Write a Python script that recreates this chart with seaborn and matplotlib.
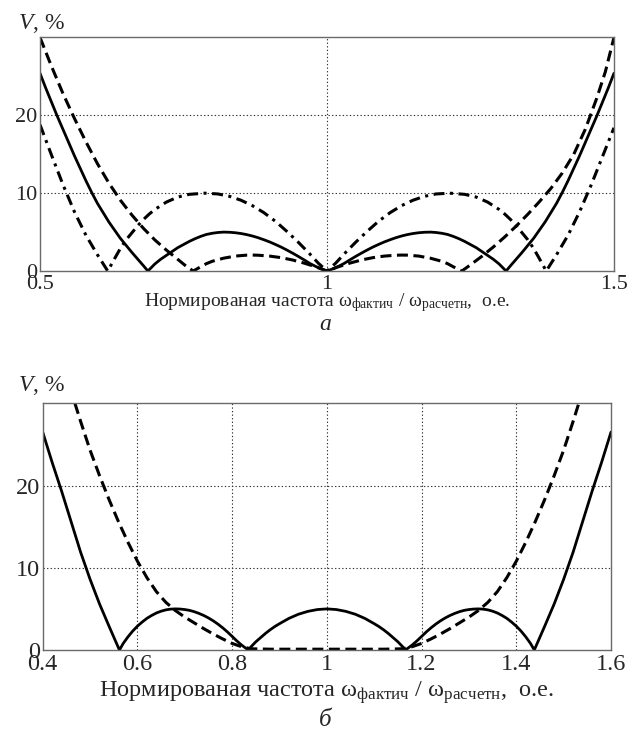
import matplotlib.pyplot as plt
import seaborn as sns

sns.set_theme(style="white")
plt.rcParams["font.family"] = ["Liberation Serif", "DejaVu Serif"]
plt.rcParams["mathtext.fontset"] = "custom"
plt.rcParams["mathtext.rm"] = "Liberation Serif"
plt.rcParams["mathtext.it"] = "Liberation Serif:italic"

# panel а: three curves, V (%) vs normalised frequency
a_solid_x = [0.50, 0.51, 0.52, 0.53, 0.54, 0.55, 0.56, 0.57, 0.58, 0.59, 0.60, 0.62, 0.64, 0.66, 0.68, 0.688,
             0.70, 0.71, 0.72, 0.73, 0.74, 0.75, 0.76, 0.77, 0.78, 0.79, 0.80, 0.81, 0.82, 0.83, 0.84, 0.85,
             0.86, 0.87, 0.88, 0.89, 0.90, 0.91, 0.92, 0.93, 0.94, 0.95, 0.96, 0.97, 0.98, 0.99, 1.00,
             1.01, 1.02, 1.03, 1.04, 1.05, 1.06, 1.07, 1.08, 1.09, 1.10, 1.11, 1.12, 1.13, 1.14, 1.15,
             1.16, 1.17, 1.18, 1.19, 1.20, 1.21, 1.22, 1.23, 1.24, 1.25, 1.26, 1.27, 1.28, 1.29, 1.30, 1.312,
             1.32, 1.34, 1.36, 1.38, 1.40, 1.41, 1.42, 1.43, 1.44, 1.45, 1.46, 1.47, 1.48, 1.49, 1.50]
a_solid_v = [25.4, 23.5, 21.7, 19.9, 18.2, 16.5, 14.8, 13.2, 11.6, 10.1, 8.7, 6.3, 4.2, 2.4, 0.7, 0.0,
             0.9, 1.5, 2.0, 2.5, 3.0, 3.4, 3.8, 4.15, 4.45, 4.7, 4.85, 4.95, 5.0, 4.98, 4.92, 4.82,
             4.68, 4.5, 4.28, 4.02, 3.74, 3.42, 3.08, 2.7, 2.3, 1.88, 1.44, 0.98, 0.6, 0.28, 0.0,
             0.28, 0.6, 0.98, 1.44, 1.88, 2.3, 2.7, 3.08, 3.42, 3.74, 4.02, 4.28, 4.5, 4.68, 4.82,
             4.92, 4.98, 5.0, 4.95, 4.85, 4.7, 4.45, 4.15, 3.8, 3.4, 3.0, 2.5, 2.0, 1.5, 0.9, 0.0,
             0.7, 2.4, 4.2, 6.3, 8.7, 10.1, 11.6, 13.2, 14.8, 16.5, 18.2, 19.9, 21.7, 23.5, 25.4]

a_dash_x = [0.50, 0.52, 0.54, 0.56, 0.58, 0.60, 0.62, 0.64, 0.66, 0.68, 0.70, 0.72, 0.74, 0.755, 0.767,
            0.78, 0.79, 0.80, 0.82, 0.84, 0.86, 0.87, 0.88, 0.90, 0.92, 0.94, 0.96, 0.98, 1.00,
            1.02, 1.04, 1.06, 1.08, 1.10, 1.12, 1.13, 1.14, 1.16, 1.18, 1.20, 1.21, 1.22, 1.235,
            1.25, 1.27, 1.29, 1.31, 1.33, 1.35, 1.37, 1.39, 1.41, 1.43, 1.45, 1.47, 1.485, 1.50]
a_dash_v = [30.0, 26.3, 22.8, 19.6, 16.6, 13.8, 11.3, 9.1, 7.2, 5.5, 4.0, 2.7, 1.5, 0.6, 0.0,
            0.55, 0.95, 1.25, 1.65, 1.92, 2.04, 2.05, 2.03, 1.92, 1.72, 1.42, 1.02, 0.55, 0.0,
            0.55, 1.02, 1.42, 1.72, 1.92, 2.03, 2.05, 2.04, 1.92, 1.65, 1.25, 0.95, 0.55, 0.0,
            0.8, 1.9, 3.1, 4.4, 5.8, 7.3, 8.9, 10.6, 12.6, 15.0, 18.2, 22.2, 25.6, 30.0]

a_dd_x = [0.50, 0.52, 0.54, 0.56, 0.58, 0.60, 0.618,
          0.63, 0.64, 0.65, 0.66, 0.67, 0.68, 0.69, 0.70, 0.72, 0.74, 0.76, 0.787, 0.81, 0.83, 0.85,
          0.87, 0.89, 0.91, 0.93, 0.95, 0.97, 0.985, 1.00,
          1.015, 1.03, 1.05, 1.07, 1.09, 1.11, 1.13, 1.15, 1.17, 1.19, 1.214, 1.24, 1.26, 1.28,
          1.30, 1.31, 1.32, 1.33, 1.34, 1.35, 1.36, 1.37, 1.382,
          1.40, 1.42, 1.44, 1.46, 1.48, 1.50]
a_dd_v = [18.8, 14.9, 11.1, 7.6, 4.6, 2.1, 0.0,
          1.6, 2.9, 4.0, 4.9, 5.8, 6.6, 7.3, 7.9, 8.85, 9.5, 9.85, 10.0, 9.9, 9.6, 9.1,
          8.4, 7.5, 6.4, 5.1, 3.7, 2.2, 1.0, 0.0,
          1.0, 2.2, 3.7, 5.1, 6.4, 7.5, 8.4, 9.1, 9.6, 9.9, 10.0, 9.85, 9.5, 8.85,
          7.9, 7.3, 6.6, 5.8, 4.9, 4.0, 2.9, 1.6, 0.0,
          2.1, 4.6, 7.6, 11.0, 14.7, 18.4]

# panel б: two curves
b_solid_x = [0.40, 0.42, 0.44, 0.46, 0.48, 0.50, 0.52, 0.54, 0.562,
             0.57, 0.58, 0.59, 0.60, 0.61, 0.62, 0.63, 0.64, 0.65, 0.66, 0.67, 0.68, 0.69, 0.70,
             0.71, 0.72, 0.73, 0.74, 0.75, 0.76, 0.77, 0.78, 0.79, 0.80, 0.81, 0.82, 0.834,
             0.84, 0.85, 0.86, 0.87, 0.88, 0.89, 0.90, 0.92, 0.94, 0.96, 0.98, 1.00,
             1.02, 1.04, 1.06, 1.08, 1.10, 1.11, 1.12, 1.13, 1.14, 1.15, 1.16, 1.166,
             1.18, 1.19, 1.20, 1.21, 1.22, 1.23, 1.24, 1.25, 1.26, 1.27, 1.28, 1.29, 1.30,
             1.31, 1.32, 1.33, 1.34, 1.35, 1.36, 1.37, 1.38, 1.39, 1.40, 1.41, 1.42, 1.43, 1.438,
             1.46, 1.48, 1.50, 1.52, 1.54, 1.56, 1.58, 1.60]
b_solid_v = [26.5, 22.8, 19.3, 15.6, 11.9, 8.6, 5.6, 2.9, 0.0,
             0.8, 1.6, 2.3, 2.9, 3.4, 3.85, 4.2, 4.5, 4.72, 4.88, 4.97, 5.0, 4.98, 4.92,
             4.82, 4.66, 4.45, 4.2, 3.9, 3.55, 3.15, 2.7, 2.2, 1.65, 1.1, 0.6, 0.0,
             0.4, 1.0, 1.5, 2.0, 2.45, 2.85, 3.2, 3.85, 4.35, 4.7, 4.92, 5.0,
             4.92, 4.7, 4.35, 3.85, 3.2, 2.85, 2.45, 2.0, 1.5, 1.0, 0.4, 0.0,
             0.6, 1.1, 1.65, 2.2, 2.7, 3.15, 3.55, 3.9, 4.2, 4.45, 4.66, 4.82, 4.92,
             4.98, 5.0, 4.97, 4.88, 4.72, 4.5, 4.2, 3.85, 3.4, 2.9, 2.3, 1.6, 0.8, 0.0,
             2.9, 5.6, 8.6, 11.9, 15.6, 19.3, 22.8, 26.5]

b_dash_x = [0.468, 0.48, 0.50, 0.52, 0.54, 0.56, 0.58, 0.60, 0.62, 0.64, 0.66, 0.68, 0.70, 0.72, 0.74,
            0.76, 0.78, 0.80, 0.82, 0.84, 0.88, 0.94, 1.00, 1.06, 1.12, 1.16, 1.18, 1.20, 1.22,
            1.24, 1.26, 1.28, 1.30, 1.32, 1.34, 1.36, 1.38, 1.40, 1.42, 1.44, 1.46, 1.48, 1.50,
            1.52, 1.532]
b_dash_v = [30.0, 27.8, 24.3, 21.2, 18.3, 15.6, 13.1, 10.8, 8.8, 7.1, 5.8, 4.8, 4.0, 3.3, 2.6,
            1.95, 1.35, 0.8, 0.4, 0.15, 0.1, 0.1, 0.1, 0.1, 0.1, 0.15, 0.4, 0.8, 1.35,
            1.95, 2.6, 3.3, 4.0, 4.8, 5.8, 7.1, 8.8, 10.8, 13.1, 15.6, 18.3, 21.2, 24.3,
            27.8, 30.0]

DASHED = (0, (3.6, 1.8))
DASHDOT = (0, (3.6, 1.8, 1.0, 1.8))


def style_axes(ax, xlim, xticks, xgrid, xtick_labels, fs):
    ax.set_xlim(*xlim)
    ax.set_ylim(0, 30)
    ax.set_xticks(xticks)
    ax.set_xticklabels(xtick_labels, fontsize=fs)
    ax.set_yticks([0, 10, 20])
    ax.set_yticklabels(["0", "10", "20"], fontsize=fs)
    ax.tick_params(axis="x", length=0, pad=3)
    ax.tick_params(axis="y", length=0, pad=2)
    ax.set_xlabel("")
    ax.set_ylabel("")
    for s in ax.spines.values():
        s.set_color("#6a6a6a")
        s.set_linewidth(1.0)
    for y in (10, 20):
        ax.axhline(y, color="#333333", lw=0.8, ls=(0, (1.2, 2.0)), zorder=0)
    for x in xgrid:
        ax.axvline(x, color="#333333", lw=0.8, ls=(0, (1.2, 2.0)), zorder=0)


fig = plt.figure(figsize=(6.29, 7.45), dpi=100)

ax1 = fig.add_axes([0.0636, 0.6362, 0.9125, 0.3135])
sns.lineplot(x=a_dash_x, y=a_dash_v, ax=ax1, color="black", lw=2.2, linestyle=DASHED, sort=False)
sns.lineplot(x=a_solid_x, y=a_solid_v, ax=ax1, color="black", lw=2.0, sort=False)
sns.lineplot(x=a_dd_x, y=a_dd_v, ax=ax1, color="black", lw=2.2, linestyle=DASHDOT, sort=False)
style_axes(ax1, (0.5, 1.5), [0.5, 1.0, 1.5], [1.0], ["0.5", "1", "1.5"], 16)

ax2 = fig.add_axes([0.0679, 0.1275, 0.9035, 0.3312])
sns.lineplot(x=b_dash_x, y=b_dash_v, ax=ax2, color="black", lw=2.2, linestyle=DASHED, sort=False)
sns.lineplot(x=b_solid_x, y=b_solid_v, ax=ax2, color="black", lw=2.0, sort=False)
style_axes(ax2, (0.4, 1.6), [0.4, 0.6, 0.8, 1.0, 1.2, 1.4, 1.6], [0.6, 0.8, 1.0, 1.2, 1.4],
           ["0.4", "0.6", "0.8", "1", "1.2", "1.4", "1.6"], 17.5)

xlabel = "Нормированая частота ω$_{\\mathrm{фактич}}$ / ω$_{\\mathrm{расчетн}}$,  о.е."

fig.text(0.028, 0.968, "$\\mathit{V}$, %", fontsize=17, ha="left", va="center")
fig.text(0.52, 0.594, xlabel, fontsize=14, ha="center", va="center")
fig.text(0.517, 0.565, "а", fontsize=17, ha="center", va="center", style="italic")

fig.text(0.028, 0.482, "$\\mathit{V}$, %", fontsize=17, ha="left", va="center")
fig.text(0.52, 0.071, xlabel, fontsize=17.5, ha="center", va="center")
fig.text(0.517, 0.034, "б", fontsize=18, ha="center", va="center", style="italic")

fig.savefig("out.png", dpi=100)
